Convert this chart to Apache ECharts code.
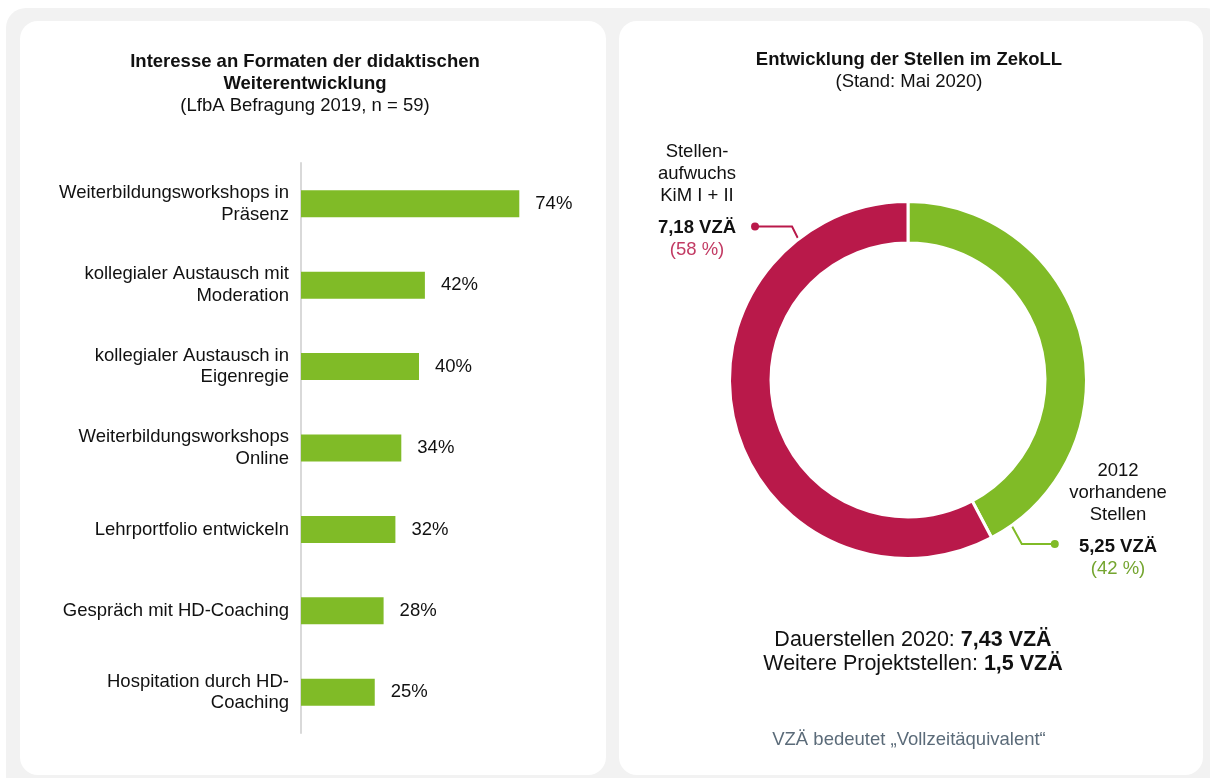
<!DOCTYPE html>
<html lang="de">
<head>
<meta charset="utf-8">
<title>Weiterentwicklung und Stellen im ZekoLL</title>
<script src="https://cdn.jsdelivr.net/npm/echarts@6/dist/echarts.min.js"></script>
<style>
  html, body { margin: 0; padding: 0; background: #ffffff; }
  #wrap { position: relative; width: 1210px; height: 778px; overflow: hidden; }
  #frame { position: absolute; left: 6px; top: 8px; width: 1220px; height: 790px;
           background: #f2f2f2; border-radius: 20px; }
  .panel { position: absolute; top: 21px; height: 754px; background: #ffffff; border-radius: 18px; }
  #panelLeft { left: 20px; width: 586px; }
  #panelRight { left: 619px; width: 584px; }
  #chart { position: absolute; left: 0; top: 0; width: 1210px; height: 778px; }
</style>
</head>
<body>
<div id="wrap">
  <div id="frame"></div>
  <div class="panel" id="panelLeft"></div>
  <div class="panel" id="panelRight"></div>
  <div id="chart"></div>
</div>
<script>
// ---- Bar chart: interest in formats (share of respondents, %) ----
const formatCategories = [
  'Weiterbildungsworkshops in\nPräsenz',
  'kollegialer Austausch mit\nModeration',
  'kollegialer Austausch in\nEigenregie',
  'Weiterbildungsworkshops\nOnline',
  'Lehrportfolio entwickeln',
  'Gespräch mit HD-Coaching',
  'Hospitation durch HD-\nCoaching'
];
const formatShares = [74, 42, 40, 34, 32, 28, 25];

// ---- Donut: positions (VZÄ) ----
const positionNames = ['2012\nvorhandene\nStellen', 'Stellen-\naufwuchs\nKiM I + II'];
const positionValues = [5.25, 7.18];
const permanentPositions2020 = 7.43;
const furtherProjectPositions = 1.5;

const GREEN = '#80bb27';
const RED = '#b9194a';
const FONT = '"Liberation Sans", Arial, Helvetica, sans-serif';
const FS = 18.5;

// donut geometry
const PIE_CX = 908, PIE_CY = 380, R_IN = 137, R_OUT = 178.5;

const fmtNum = v => String(v).replace('.', ',');

// point on the ring, angle measured clockwise from 12 o'clock
function ringPoint(deg, r) {
  const a = deg * Math.PI / 180;
  return [PIE_CX + r * Math.sin(a), PIE_CY - r * Math.cos(a)];
}

// callout placement for each slice: line start angle, elbow/end offsets, text anchor
const callouts = [
  { angle: 144.5, elbow: [11, 20], end: [44, 20], text: [1118, 460] },
  { angle: 322, elbow: [-7, -14], end: [-44, -14], text: [697, 141] }
];

function calloutPoints(i) {
  const c = callouts[i];
  const s = ringPoint(c.angle, 177);
  return [s, [s[0] + c.elbow[0], s[1] + c.elbow[1]], [s[0] + c.end[0], s[1] + c.end[1]]];
}

const chart = echarts.init(document.getElementById('chart'), null, { renderer: 'canvas' });

const totalPositions = positionValues.reduce((a, b) => a + b, 0);

const option = {
  backgroundColor: 'transparent',
  animation: false,
  textStyle: { fontFamily: FONT },
  title: [
    {
      text: 'Interesse an Formaten der didaktischen\nWeiterentwicklung',
      subtext: '(LfbA Befragung 2019, n = 59)',
      left: 305, top: 51, textAlign: 'center', itemGap: 0, padding: 0,
      textStyle: { fontFamily: FONT, fontSize: FS, fontWeight: 'bold', color: '#111', lineHeight: 22 },
      subtextStyle: { fontFamily: FONT, fontSize: FS, color: '#111', lineHeight: 22 }
    },
    {
      text: 'Entwicklung der Stellen im ZekoLL',
      subtext: '(Stand: Mai 2020)',
      left: 909, top: 49, textAlign: 'center', itemGap: 0, padding: 0,
      textStyle: { fontFamily: FONT, fontSize: FS, fontWeight: 'bold', color: '#111', lineHeight: 22 },
      subtextStyle: { fontFamily: FONT, fontSize: FS, color: '#111', lineHeight: 22 }
    },
    {
      text: 'Dauerstellen 2020: {b|' + fmtNum(permanentPositions2020) + ' VZÄ}\n' +
            'Weitere Projektstellen: {b|' + fmtNum(furtherProjectPositions) + ' VZÄ}',
      left: 913, top: 628, textAlign: 'center', padding: 0,
      textStyle: {
        fontFamily: FONT, fontSize: 21.5, fontWeight: 'normal', color: '#111', lineHeight: 24,
        rich: { b: { fontFamily: FONT, fontSize: 21.5, fontWeight: 'bold', color: '#111', lineHeight: 24 } }
      }
    },
    {
      text: 'VZÄ bedeutet „Vollzeitäquivalent“',
      left: 909, top: 730, textAlign: 'center', padding: 0,
      textStyle: { fontFamily: FONT, fontSize: FS, fontWeight: 'normal', color: '#5b6b79', lineHeight: 20 }
    }
  ],
  grid: { left: 301, top: 163, width: 295, height: 570, containLabel: false },
  xAxis: {
    type: 'value', min: 0, max: 100,
    show: false
  },
  yAxis: {
    type: 'category',
    inverse: true,
    data: formatCategories,
    axisLine: { show: true, lineStyle: { color: '#d9d9d9', width: 2 } },
    axisTick: { show: false },
    axisLabel: {
      margin: 12, fontFamily: FONT, fontSize: FS, color: '#111', lineHeight: 21.5, align: 'right'
    },
    splitLine: { show: false }
  },
  series: [
    {
      type: 'bar',
      data: formatShares,
      barWidth: 27,
      itemStyle: { color: GREEN },
      label: {
        show: true, position: 'right', distance: 16,
        formatter: p => p.value + '%',
        fontFamily: FONT, fontSize: FS, color: '#111'
      }
    },
    {
      type: 'pie',
      center: [PIE_CX, PIE_CY],
      radius: [R_IN, R_OUT],
      startAngle: 90,
      clockwise: true,
      avoidLabelOverlap: false,
      itemStyle: { borderColor: '#ffffff', borderWidth: 3 },
      emphasis: { disabled: true },
      data: positionValues.map((v, i) => ({
        name: positionNames[i],
        value: v,
        itemStyle: { color: i === 0 ? GREEN : RED },
        label: { rich: { p: { color: i === 0 ? '#74a52f' : '#c23a63' } } },
        labelLine: { lineStyle: { color: i === 0 ? GREEN : RED } }
      })),
      label: {
        show: true,
        position: 'outside',
        formatter: p => {
          const lines = p.name.split('\n').map(s => '{t|' + s + '}');
          const pct = Math.round(p.value / totalPositions * 100);
          return lines.join('\n') + '\n{g|}\n{b|' + fmtNum(p.value) + ' VZÄ}\n{p|(' + pct + ' %)}';
        },
        align: 'center',
        rich: {
          t: { fontFamily: FONT, fontSize: FS, color: '#111', lineHeight: 22, align: 'center' },
          g: { lineHeight: 10, height: 10, fontSize: 1 },
          b: { fontFamily: FONT, fontSize: FS, fontWeight: 'bold', color: '#111', lineHeight: 22, align: 'center' },
          p: { fontFamily: FONT, fontSize: FS, lineHeight: 22, align: 'center' }
        }
      },
      labelLine: { show: true, lineStyle: { width: 2 } },
      labelLayout: params => {
        const i = params.dataIndex;
        return {
          x: callouts[i].text[0],
          y: callouts[i].text[1],
          align: 'center',
          verticalAlign: 'top',
          labelLinePoints: calloutPoints(i)
        };
      }
    }
  ],
  graphic: positionValues.map((v, i) => {
    const end = calloutPoints(i)[2];
    return {
      type: 'circle',
      shape: { cx: end[0], cy: end[1], r: 4 },
      style: { fill: i === 0 ? GREEN : RED },
      z: 10
    };
  })
};

chart.setOption(option);
</script>
</body>
</html>
